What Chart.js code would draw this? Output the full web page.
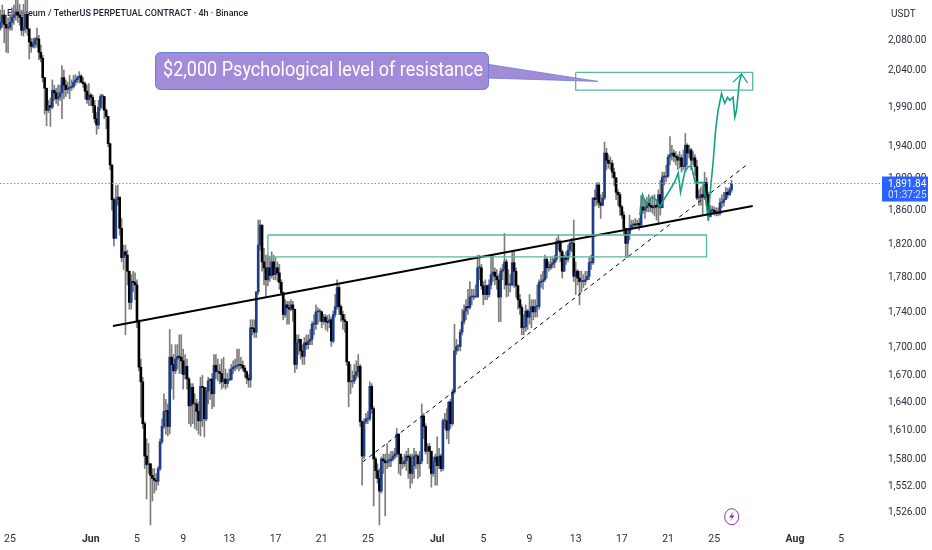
<!DOCTYPE html>
<html>
<head>
<meta charset="utf-8">
<title>ETHUSDT 4h</title>
<script src="https://cdn.jsdelivr.net/npm/chart.js@4"></script>
<style>
html, body { margin: 0; padding: 0; background: #fff; }
canvas { display: block; }
</style>
</head>
<body>
<canvas id="chart" width="932" height="550"></canvas>
<script>
// 4h candles, one per x index
const firstOpen = 2095;
const closes = [
2103,2113,2100,2095,2096,2103,2110,2113,2117,2113,2110,2092,2096,2114,2094,2076,2070,2073,2080,2080,
2062,2054,2028,2014,1985,1991,1989,2011,2008,2000,2003,2008,2028,2018,2012,2014,2015,2016,2022,2025,
2028,2030,2022,2020,2010,1999,2005,2002,1991,1974,1966,1989,2003,2003,1985,1977,1942,1915,1872,1825,
1872,1875,1837,1802,1809,1805,1786,1750,1774,1773,1770,1728,1677,1661,1616,1582,1573,1574,1562,1559,
1557,1556,1569,1597,1613,1629,1630,1613,1688,1680,1673,1686,1689,1688,1684,1669,1678,1664,1635,1655,
1637,1637,1629,1619,1656,1655,1621,1651,1662,1664,1648,1679,1672,1672,1670,1661,1664,1659,1663,1663,
1675,1677,1678,1679,1680,1679,1676,1672,1665,1663,1721,1720,1716,1762,1817,1841,1797,1790,1776,1790,
1781,1797,1782,1790,1784,1773,1761,1736,1747,1744,1742,1747,1742,1680,1704,1708,1695,1689,1704,1702,
1706,1708,1725,1725,1739,1739,1739,1728,1733,1728,1727,1730,1706,1736,1745,1767,1745,1736,1730,1728,
1683,1661,1661,1662,1668,1672,1678,1618,1582,1618,1621,1621,1656,1632,1579,1567,1559,1546,1579,1577,
1575,1577,1577,1579,1582,1584,1605,1584,1574,1574,1577,1582,1581,1564,1572,1582,1582,1574,1577,1624,
1613,1587,1592,1587,1564,1576,1581,1572,1582,1569,1619,1619,1609,1639,1616,1650,1695,1700,1700,1716,
1728,1740,1745,1744,1756,1756,1756,1756,1790,1790,1769,1759,1769,1759,1770,1782,1785,1780,1776,1756,
1786,1788,1797,1770,1770,1770,1796,1786,1769,1753,1744,1721,1722,1740,1733,1739,1745,1739,1745,1745,
1773,1774,1776,1800,1790,1790,1794,1796,1800,1821,1821,1809,1786,1802,1800,1811,1819,1819,1780,1786,
1778,1774,1774,1774,1776,1780,1796,1796,1874,1872,1890,1868,1865,1874,1930,1921,1917,1917,1906,1899,
1881,1878,1863,1853,1837,1819,1831,1837,1841,1842,1841,1843,1841,1863,1859,1862,1868,1865,1863,1862,
1865,1863,1878,1862,1900,1900,1901,1925,1928,1930,1926,1925,1921,1924,1913,1913,1940,1930,1934,1921,
1924,1913,1874,1874,1878,1875,1893,1878,1851,1859,1859,1857,1855,1855,1868,1869,1872,1881,1878,1884,
1891.84
];
const highs = [
2120,2127,2120,2113,2109,2114,2123,2127,2134,2134,2128,2120,2128,2134,2134,2092,2081,2081,2082,2095,
2085,2072,2058,2028,2005,1998,2001,2025,2018,2014,2018,2018,2044,2038,2025,2022,2031,2025,2031,2032,
2030,2036,2032,2028,2022,2018,2020,2007,2005,1998,1982,1998,2006,2006,2003,1987,1977,1942,1915,1874,
1889,1890,1875,1849,1817,1817,1811,1782,1782,1786,1784,1776,1730,1686,1666,1618,1600,1595,1574,1569,
1569,1564,1571,1600,1621,1648,1642,1637,1719,1702,1691,1702,1702,1713,1713,1697,1691,1686,1666,1659,
1659,1648,1642,1639,1666,1668,1648,1655,1666,1664,1670,1691,1691,1686,1680,1686,1688,1675,1670,1675,
1680,1684,1686,1697,1697,1688,1684,1679,1673,1669,1730,1730,1730,1762,1847,1847,1837,1813,1805,1805,
1803,1809,1805,1802,1797,1794,1776,1762,1753,1751,1751,1753,1751,1742,1713,1713,1708,1702,1710,1713,
1713,1719,1728,1736,1747,1744,1742,1740,1736,1736,1735,1736,1733,1740,1759,1776,1770,1747,1740,1736,
1728,1683,1680,1673,1680,1684,1691,1680,1619,1621,1627,1629,1661,1659,1634,1581,1574,1569,1581,1584,
1584,1595,1584,1587,1587,1590,1611,1605,1584,1581,1584,1587,1590,1584,1584,1590,1587,1584,1587,1637,
1627,1616,1595,1595,1587,1581,1584,1602,1590,1584,1621,1627,1632,1640,1642,1653,1725,1708,1702,1719,
1742,1747,1753,1765,1774,1765,1765,1770,1805,1805,1794,1774,1776,1770,1776,1805,1805,1790,1788,1782,
1790,1794,1831,1800,1788,1782,1809,1809,1790,1770,1759,1747,1736,1747,1742,1759,1753,1753,1753,1770,
1776,1782,1786,1805,1802,1797,1802,1802,1805,1825,1829,1823,1811,1805,1809,1817,1823,1825,1847,1797,
1788,1786,1786,1782,1786,1786,1802,1805,1874,1884,1893,1893,1878,1881,1944,1936,1928,1925,1921,1911,
1899,1884,1881,1865,1857,1837,1837,1853,1847,1847,1849,1847,1849,1877,1877,1872,1875,1878,1874,1877,
1878,1872,1884,1896,1906,1906,1915,1928,1951,1940,1934,1932,1928,1932,1928,1934,1955,1942,1940,1936,
1932,1928,1921,1884,1887,1890,1906,1899,1881,1865,1864,1863,1862,1862,1874,1878,1881,1887,1886,1887,
1896
];
const lows = [
2092,2096,2075,2062,2061,2092,2092,2100,2106,2103,2099,2085,2084,2089,2085,2053,2062,2068,2068,2069,
2052,2049,2022,1980,1965,1982,1964,1987,1998,1994,1991,1998,1974,2000,2003,2007,2000,2011,2014,2018,
2021,2021,2021,2015,2000,1994,1991,1991,1982,1969,1954,1961,1985,1987,1974,1961,1938,1909,1859,1816,
1825,1865,1829,1797,1788,1713,1770,1742,1742,1762,1753,1721,1673,1623,1611,1569,1538,1564,1512,1536,
1544,1547,1552,1567,1595,1611,1605,1603,1605,1653,1642,1670,1675,1670,1670,1653,1664,1653,1616,1613,
1616,1611,1609,1605,1603,1613,1602,1619,1637,1642,1632,1634,1664,1662,1659,1653,1655,1653,1655,1662,
1664,1670,1673,1675,1673,1675,1673,1666,1659,1655,1655,1713,1710,1710,1759,1811,1786,1770,1756,1769,
1774,1778,1776,1776,1774,1765,1759,1730,1733,1725,1725,1740,1728,1671,1675,1691,1686,1680,1680,1697,
1697,1702,1702,1713,1719,1725,1728,1721,1725,1719,1717,1721,1700,1704,1733,1742,1736,1728,1719,1716,
1679,1634,1648,1655,1659,1664,1666,1613,1552,1579,1616,1616,1619,1627,1531,1559,1554,1512,1544,1564,
1521,1569,1571,1571,1577,1579,1581,1564,1562,1569,1571,1567,1559,1549,1554,1559,1569,1559,1561,1574,
1600,1584,1574,1569,1550,1561,1552,1552,1569,1566,1567,1611,1600,1595,1611,1614,1648,1691,1695,1695,
1713,1725,1730,1736,1742,1747,1753,1756,1756,1776,1765,1747,1753,1753,1756,1765,1774,1770,1765,1728,
1728,1776,1765,1756,1757,1762,1769,1767,1756,1742,1736,1713,1713,1717,1719,1725,1721,1730,1733,1733,
1742,1767,1765,1774,1778,1786,1788,1790,1790,1797,1811,1797,1778,1786,1794,1797,1805,1809,1774,1759,
1770,1747,1762,1767,1770,1776,1776,1788,1794,1864,1865,1862,1849,1865,1872,1909,1911,1909,1899,1889,
1872,1865,1853,1849,1829,1802,1802,1823,1835,1837,1837,1840,1835,1839,1855,1849,1857,1857,1857,1855,
1852,1847,1842,1853,1862,1890,1894,1899,1915,1921,1919,1915,1909,1911,1906,1909,1906,1915,1924,1909,
1915,1902,1872,1865,1865,1853,1872,1865,1846,1853,1854,1853,1852,1852,1853,1862,1864,1872,1874,1877,
1881
];

// price axis and time axis labels
const yTicks = [2080,2040,1990,1940,1900,1860,1820,1780,1740,1700,1670,1640,1610,1580,1552,1526];
const xTickPos = [5,47,71,95,119,143,167,191,227,251,275,299,323,347,371,413,437];
const xTickLabels = ['25','Jun','5','9','13','17','21','25','Jul','5','9','13','17','21','25','Aug','5'];
const monthLabels = ['Jun','Jul','Aug'];

const lastPrice = 1891.84;
const priceLine = [{x:-0.2,y:lastPrice},{x:458.2,y:lastPrice}];

// drawings on the chart, in candle index / price
const supportLine = [{x:58.5,y:1723},{x:391,y:1864}];
const risingLine = [{x:188.4,y:1576},{x:388.4,y:1916}];
const targetBox = [{x:299,y:2035},{x:391,y:2035},{x:391,y:2011.5},{x:299,y:2011.5},{x:299,y:2035}];
const demandBox = [{x:139,y:1829},{x:367,y:1829},{x:367,y:1803},{x:139,y:1803},{x:139,y:1829}];
const projection = [
  {x:332.4,y:1853},{x:333.7,y:1878},{x:335.8,y:1865},{x:338.4,y:1875},{x:340.7,y:1872},{x:342.8,y:1863},
  {x:345.4,y:1874},{x:348,y:1884},{x:350.5,y:1894},{x:352.3,y:1905},{x:353.5,y:1881},{x:355.7,y:1906},
  {x:357.5,y:1913},{x:359.2,y:1913},{x:361,y:1894},{x:362.7,y:1893},{x:365.3,y:1893},{x:366.6,y:1872},
  {x:367.9,y:1847},{x:368.7,y:1875},{x:370.5,y:1921},{x:371.7,y:1959},{x:373,y:1985},{x:374.8,y:2007},
  {x:376.5,y:1994},{x:377.9,y:2002},{x:379.1,y:1998},{x:380.8,y:2002},{x:381.7,y:1976},{x:382.6,y:1985},
  {x:384,y:2021},{x:385.2,y:2033}
];
const arrowHead = [{x:380.8,y:2022},{x:385.2,y:2033},{x:388.3,y:2021}];
const calloutTip = {x:310.5,y:2023};

const opens = closes.map((c, i) => i === 0 ? firstOpen : closes[i - 1]);
const wickData = closes.map((c, i) => ({x:i, y:[lows[i], highs[i]]}));
const bodyData = closes.map((c, i) => ({x:i, y:[Math.min(opens[i], c), Math.max(opens[i], c)]}));
const bodyColors = closes.map((c, i) => c >= opens[i] ? '#1d3c8c' : '#000000');

const TEAL = '#5ab89e';
const GREEN = '#12a285';

function lineSet(data, color, width, dash) {
    return {type:'line', data:data, borderColor:color, borderWidth:width, borderDash:dash || [],
            pointRadius:0, tension:0, fill:false, order:0};
}

// title, callout, price tag and the little bolt badge
const overlayPlugin = {
    id: 'overlay',
    beforeDatasetsDraw(chart) {
        const ctx = chart.ctx;
        ctx.save();
        ctx.fillStyle = '#1f2330';
        ctx.font = '500 9px Roboto';
        ctx.textBaseline = 'middle';
        ctx.fillText('Ethereum / TetherUS PERPETUAL CONTRACT · 4h · Binance', 7, 13.5);
        ctx.restore();
    },
    afterDraw(chart) {
        const ctx = chart.ctx;
        const sx = chart.scales.x, sy = chart.scales.y;
        ctx.save();

        // pointer first so the box sits on top
        ctx.beginPath();
        ctx.moveTo(486, 64);
        ctx.lineTo(sx.getPixelForValue(calloutTip.x), sy.getPixelForValue(calloutTip.y));
        ctx.lineTo(486, 78);
        ctx.closePath();
        ctx.fillStyle = '#a28bd8';
        ctx.fill();
        ctx.strokeStyle = '#6a80d2';
        ctx.lineWidth = 0.8;
        ctx.stroke();

        ctx.beginPath();
        ctx.roundRect(155.5, 52.5, 333, 37, 5);
        ctx.fillStyle = '#a28bd8';
        ctx.fill();
        ctx.strokeStyle = '#6a80d2';
        ctx.lineWidth = 1;
        ctx.stroke();
        ctx.fillStyle = '#ffffff';
        ctx.font = '20px Roboto';
        ctx.textBaseline = 'middle';
        ctx.textAlign = 'left';
        ctx.fillText('$2,000 Psychological level of resistance', 163, 71, 320);

        // axis unit
        ctx.fillStyle = '#2a2e39';
        ctx.font = '10px Roboto';
        ctx.fillText('USDT', 891, 14);

        // last price tag
        const py = sy.getPixelForValue(lastPrice);
        ctx.fillStyle = '#2962ff';
        ctx.fillRect(882, py - 7, 46, 25);
        ctx.fillStyle = '#ffffff';
        ctx.font = '10px Roboto';
        ctx.fillText(lastPrice.toLocaleString('en-US', {minimumFractionDigits:2}), 888, py + 0.5);
        ctx.fillStyle = '#d5e0ff';
        ctx.fillText('01:37:25', 888, py + 11.5);

        // bolt badge
        ctx.beginPath();
        ctx.ellipse(731.7, 516.7, 7, 8, 0, 0, Math.PI * 2);
        ctx.strokeStyle = '#9c27b0';
        ctx.lineWidth = 1;
        ctx.stroke();
        ctx.beginPath();
        ctx.moveTo(733.5, 511.5);
        ctx.lineTo(729, 517.5);
        ctx.lineTo(732, 517.5);
        ctx.lineTo(730, 521.5);
        ctx.lineTo(734.5, 515.5);
        ctx.lineTo(731.8, 515.5);
        ctx.closePath();
        ctx.fillStyle = '#9c27b0';
        ctx.fill();
        ctx.restore();
    }
};

new Chart(document.getElementById('chart'), {
    type: 'bar',
    data: {
        datasets: [
            {data:wickData, backgroundColor:'#7d7d7d', barThickness:1, grouped:false, order:3},
            {data:bodyData, backgroundColor:ctx => bodyColors[ctx.dataIndex], barThickness:2, minBarLength:1, grouped:false, order:2},
            lineSet(priceLine, '#8f86e0', 1, [1.5,2]),
            lineSet(targetBox, TEAL, 1.3),
            lineSet(demandBox, TEAL, 1.3),
            lineSet(supportLine, '#000000', 2),
            lineSet(risingLine, '#000000', 1, [4,4]),
            lineSet(projection, GREEN, 1.6),
            lineSet(arrowHead, GREEN, 1.2)
        ]
    },
    options: {
        responsive: false,
        animation: false,
        devicePixelRatio: 1,
        layout: {padding: 0},
        plugins: {legend: {display:false}, tooltip: {enabled:false}, title: {display:false}},
        scales: {
            x: {
                type: 'linear',
                min: -0.2,
                max: 458.2,
                offset: false,
                grid: {display:false, drawTicks:false},
                border: {display:false},
                afterBuildTicks: s => { s.ticks = xTickPos.map(v => ({value:v})); },
                afterFit: s => { s.height = 24; s.paddingLeft = 0; s.paddingRight = 0; },
                ticks: {
                    autoSkip: false,
                    maxRotation: 0,
                    padding: 7,
                    color: '#2a2e39',
                    callback: v => xTickLabels[xTickPos.indexOf(v)],
                    font: ctx => ({family:'Roboto', size:10.5,
                        weight: monthLabels.includes(xTickLabels[ctx.index]) ? 'bold' : 'normal'})
                }
            },
            y: {
                type: 'logarithmic',
                position: 'right',
                min: 1511,
                max: 2134,
                grid: {display:false, drawTicks:false},
                border: {display:false},
                afterBuildTicks: s => { s.ticks = yTicks.map(v => ({value:v})); },
                // no half-label padding, the plot has to reach the top edge
                afterFit: s => { s.width = 50; s.paddingTop = 0; s.paddingBottom = 0; },
                ticks: {
                    autoSkip: false,
                    crossAlign: 'near',
                    padding: 6,
                    labelOffset: 1.5,
                    color: '#2a2e39',
                    font: {family:'Roboto', size:10},
                    callback: v => v.toLocaleString('en-US', {minimumFractionDigits:2})
                }
            }
        }
    },
    plugins: [overlayPlugin]
});
</script>
</body>
</html>
